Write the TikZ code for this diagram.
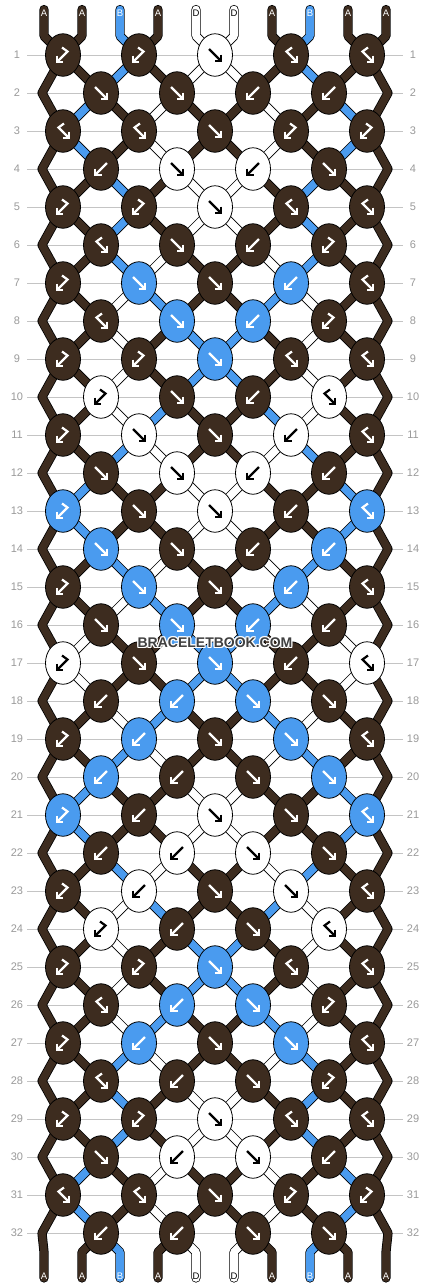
\documentclass[tikz,border=0pt]{standalone}
\usepackage{fontspec}
\setmainfont{Liberation Sans}
\usetikzlibrary{shapes.geometric}
\definecolor{brn}{HTML}{3D2C1F}
\definecolor{blu}{HTML}{4A9BEF}
\definecolor{wht}{HTML}{FFFFFF}
\definecolor{gridc}{HTML}{C4C4C4}
\definecolor{numc}{HTML}{9A9A9A}
\definecolor{wmark}{HTML}{404040}
\pgfdeclarelayer{bg}
\pgfdeclarelayer{strands}
\pgfsetlayers{bg,strands,main}
\newcount\pp
\newcount\qq
\gdef\allstrands{}
\def\addstrand#1{\xdef\allstrands{\unexpanded\expandafter{\allstrands}\unexpanded{#1}}}
\def\acolwht{black}\def\acolbrn{white}\def\acolblu{white}
\def\pickf{\let\kc\Lc}\def\pickfb{\let\kc\Lc}\def\pickb{\let\kc\Rc}\def\pickbf{\let\kc\Rc}
\def\swapcols{\expandafter\xdef\csname col\the\pp\endcsname{\Rc}\expandafter\xdef\csname col\the\qq\endcsname{\Lc}}
\def\swf{\swapcols}\def\swb{\swapcols}\def\swfb{}\def\swbf{}
\def\strandto#1#2{\edef\tmp{\noexpand\draw[strand=\csname col#1\endcsname] \csname src#1\endcsname\space -- (#2);}\expandafter\addstrand\expandafter{\tmp}}
\def\doknot{%
 \global\qq=\pp \global\advance\qq by 1\relax
 \pgfmathtruncatemacro\kx{63+38*(\the\pp-1)}%
 \edef\kname{k-\rw-\the\pp}%
 \edef\Lc{\csname col\the\pp\endcsname}%
 \edef\Rc{\csname col\the\qq\endcsname}%
 \csname pick\t\endcsname
 \edef\ac{\csname acol\kc\endcsname}%
 \edef\tmp{\noexpand\node[knot,fill=\kc] (\kname) at (\kx,\yy) {}; \noexpand\pic[\ac] at (\kname) {sym\t};}\tmp
 \strandto{\the\pp}{\kname.center}%
 \strandto{\the\qq}{\kname.center}%
 \csname sw\t\endcsname
 \expandafter\xdef\csname src\the\pp\endcsname{(\kname.center)}%
 \expandafter\xdef\csname src\the\qq\endcsname{(\kname.center)}%
 \global\advance\pp by 2\relax}
\def\doedges{%
 \coordinate (e-\rw-1) at (42,\yy);
 \coordinate (e-\rw-10) at (388,\yy);
 \expandafter\xdef\csname src1\endcsname{\csname src1\endcsname\space -- (e-\rw-1)}%
 \expandafter\xdef\csname src10\endcsname{\csname src10\endcsname\space -- (e-\rw-10)}}
\def\setrow#1#2{\expandafter\def\csname rowT#1\endcsname{#2}}
\setrow{1}{bf,bf,f,fb,fb}
\setrow{2}{f,f,b,b}
\setrow{3}{fb,fb,f,bf,bf}
\setrow{4}{b,f,b,f}
\setrow{5}{bf,bf,f,fb,fb}
\setrow{6}{fb,f,b,bf}
\setrow{7}{bf,f,f,b,fb}
\setrow{8}{fb,f,b,bf}
\setrow{9}{bf,bf,f,fb,fb}
\setrow{10}{bf,f,b,fb}
\setrow{11}{bf,f,f,b,fb}
\setrow{12}{f,f,b,b}
\setrow{13}{bf,f,f,b,fb}
\setrow{14}{f,f,b,b}
\setrow{15}{bf,f,f,b,fb}
\setrow{16}{f,f,b,b}
\setrow{17}{bf,f,f,b,fb}
\setrow{18}{b,b,f,f}
\setrow{19}{bf,b,f,f,fb}
\setrow{20}{b,b,f,f}
\setrow{21}{bf,b,f,f,fb}
\setrow{22}{b,b,f,f}
\setrow{23}{bf,b,f,f,fb}
\setrow{24}{bf,b,f,fb}
\setrow{25}{bf,bf,f,fb,fb}
\setrow{26}{fb,b,f,bf}
\setrow{27}{bf,b,f,f,fb}
\setrow{28}{fb,b,f,bf}
\setrow{29}{bf,bf,f,fb,fb}
\setrow{30}{f,b,f,b}
\setrow{31}{fb,fb,f,bf,bf}
\setrow{32}{b,b,f,f}
\begin{document}
\begin{tikzpicture}[x=1pt,y=-1pt,
 knot/.style={ellipse, draw=black, line width=0.8pt, minimum width=35pt, minimum height=42.5pt, inner sep=0pt},
 strand/.style={draw=black, line width=0.8pt, double=#1, double distance=7.6pt, line join=round, line cap=round},
 arr/.style={line width=2.2pt, line cap=butt, line join=miter},
 lbl/.style={font=\fontsize{9.5}{9.5}\selectfont, inner sep=0pt},
 num/.style={font=\fontsize{11}{11}\selectfont, text=numc, inner sep=0pt},
 gridline/.style={draw=gridc, line width=0.8pt},
 wm/.style={font=\bfseries\fontsize{14}{14}\selectfont, inner sep=0pt},
 symf/.pic={\draw[arr] (-6,-6) -- (5,5); \draw[arr] (6,-0.5) -- (6,6) -- (-0.5,6);},
 symb/.pic={\draw[arr] (6,-6) -- (-5,5); \draw[arr] (-6,-0.5) -- (-6,6) -- (0.5,6);},
 symfb/.pic={\draw[arr] (1,-7.5) -- (-4.5,-3.5) -- (5,6); \draw[arr] (6,0.5) -- (6,6.8) -- (-0.3,6.8);},
 symbf/.pic={\draw[arr] (-1,-7.5) -- (4.5,-3.5) -- (-5,6); \draw[arr] (-6,0.5) -- (-6,6.8) -- (0.3,6.8);}
]
\begin{pgfonlayer}{bg}
\fill[white] (0,0) rectangle (430,1288);
\foreach \rw in {1,...,32}{
 \draw[gridline] (27,55+38*\rw-38) -- (403,55+38*\rw-38);
}
\end{pgfonlayer}
\useasboundingbox (0,0) rectangle (430,1288);
\foreach \p/\c/\l in {1/brn/A,2/brn/A,3/blu/B,4/brn/A,5/wht/D,6/wht/D,7/brn/A,8/blu/B,9/brn/A,10/brn/A}{
 \pgfmathtruncatemacro\xx{44+38*(\p-1)}
 \coordinate (t-\p) at (\xx,9.5);
 \coordinate (u-\p) at (\xx,36);
 \expandafter\xdef\csname col\p\endcsname{\c}
 \expandafter\xdef\csname src\p\endcsname{(t-\p) -- (u-\p)}
 \edef\tc{\csname acol\c\endcsname}
 \node[lbl, text=\tc] (lt-\p) at (\xx,13.5) {\l};
}
\foreach \rw in {1,...,32}{
 \pgfmathtruncatemacro\yy{55+38*(\rw-1)}
 \node[num] (nl-\rw) at (17,\yy) {\rw};
 \node[num] (nr-\rw) at (413,\yy) {\rw};
 \ifodd\rw\relax \global\pp=1 \else \global\pp=2 \fi
 \edef\types{\csname rowT\rw\endcsname}
 \foreach \t in \types {\doknot}
 \ifodd\rw\relax\else \doedges \fi
}
\foreach \p/\l in {1/A,2/A,3/B,4/A,5/D,6/D,7/A,8/B,9/A,10/A}{
 \pgfmathtruncatemacro\xx{44+38*(\p-1)}
 \coordinate (v-\p) at (\xx,1252);
 \coordinate (w-\p) at (\xx,1278);
 \edef\tmp{\noexpand\draw[strand=\csname col\p\endcsname] \csname src\p\endcsname\space -- (v-\p) -- (w-\p);}
 \expandafter\addstrand\expandafter{\tmp}
 \edef\tc{\csname acol\csname col\p\endcsname\endcsname}
 \node[lbl, text=\tc] (lb-\p) at (\xx,1276) {\l};
}
\begin{pgfonlayer}{strands}
\allstrands
\end{pgfonlayer}
\foreach \dx/\dy [count=\i] in {-1/0,1/0,0/-1,0/1,-1/-1,1/1,-1/1,1/-1}{
 \node[wm, text=white] (wmh-\i) at (215+\dx,643+\dy) {BRACELETBOOK.COM};
}
\node[wm, text=wmark] (wm) at (215,643) {BRACELETBOOK.COM};
\end{tikzpicture}
\end{document}
